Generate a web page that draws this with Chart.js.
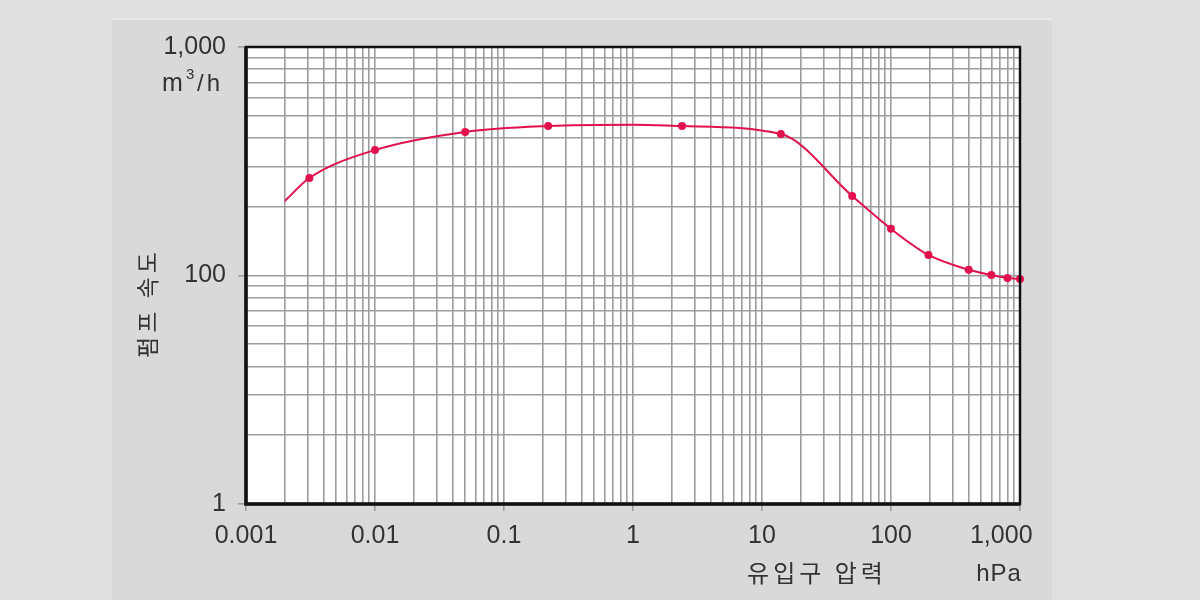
<!DOCTYPE html>
<html>
<head>
<meta charset="utf-8">
<script src="https://cdn.jsdelivr.net/npm/chart.js@4/dist/chart.umd.min.js"></script>
<style>
  html, body { margin: 0; padding: 0; background: #dfdfdf; }
  #panel { position: absolute; left: 112px; top: 18px; width: 940px; height: 582px;
           background: #d9d9d9; border-top: 2px solid #e9e9e9; }
  #wrap { position: absolute; left: 0; top: 0; width: 1200px; height: 600px; }
</style>
</head>
<body>
<div id="panel"></div>
<div id="wrap"><canvas id="grafik" width="1200" height="600"></canvas></div>
<script>
// inlet pressure (hPa) and pumping speed (m3/h)
const pressure = [0.002, 0.0031, 0.01, 0.05, 0.22, 1, 2.4, 14, 50, 100, 195, 400, 600, 800, 1000];
const speed    = [212,   267,    354,  425,  451,  457, 451, 416, 223, 160, 123, 106, 100.5, 97.5, 96.5];
const marker   = [0,     1,      1,    1,    1,    0,   1,   1,   1,   1,   1,   1,   1,     1,    1];

const xDecades = [0.001, 0.01, 0.1, 1, 10, 100, 1000];
const xLabels  = ['0.001', '0.01', '0.1', '1', '10', '100', '1,000'];
const yDecades = [10, 100, 1000];
const yLabels  = ['1', '100', '1,000'];

const gridGray = '#9d9d9d';
const red = '#e2114d';
const latin = '"Liberation Sans", Arial, sans-serif';

function allTicks(decades) {
  let out = [];
  decades.forEach((d, i) => {
    out.push(d);
    if (i < decades.length - 1) {
      for (let m = 2; m <= 9; m++) out.push(+(d * m).toPrecision(3));
    }
  });
  return out;
}
function isMajor(v, decades) {
  return decades.some(d => Math.abs(d - v) / d < 1e-6);
}

const frame = {
  id: 'frame',
  beforeDraw(chart) {
    const {ctx, chartArea: a} = chart;
    ctx.save();
    ctx.fillStyle = '#ffffff';
    ctx.fillRect(a.left, a.top, a.right - a.left, a.bottom - a.top);
    ctx.restore();
  },
  afterDraw(chart) {
    const {ctx, chartArea: a} = chart;
    ctx.save();
    ctx.strokeStyle = '#111';
    ctx.lineWidth = 2.5;
    ctx.strokeRect(a.left, a.top, a.right - a.left, a.bottom - a.top);
    ctx.lineWidth = 3.5;
    ctx.beginPath();
    ctx.moveTo(a.left, a.top);
    ctx.lineTo(a.left, a.bottom);
    ctx.lineTo(a.right, a.bottom);
    ctx.stroke();

    ctx.fillStyle = '#333';
    ctx.textBaseline = 'middle';
    ctx.textAlign = 'left';
    ctx.font = '25px ' + latin;
    ctx.fillText('m', 162, 84);
    ctx.font = '15px ' + latin;
    ctx.fillText('3', 186, 75);
    ctx.font = '24px ' + latin;
    ctx.letterSpacing = '3px';
    ctx.fillText('/h', 197, 84);

    ctx.textAlign = 'center';
    ctx.letterSpacing = '4px';
    ctx.font = '24px "Noto Sans CJK KR", sans-serif';
    ctx.fillText('유입구 압력', 817, 573);
    ctx.letterSpacing = '1px';
    ctx.font = '24px ' + latin;
    ctx.fillText('hPa', 999, 574);

    ctx.translate(147, 303);
    ctx.rotate(-Math.PI / 2);
    ctx.letterSpacing = '4px';
    ctx.font = '23px "Noto Sans CJK KR", sans-serif';
    ctx.fillText('펌프 속도', 0, 0);
    ctx.restore();
  }
};

new Chart(
  document.getElementById('grafik'),
  {
    type: 'line',
    data: {
      datasets: [
        {
          label: 'Pumping speed',
          data: pressure.map((p, i) => ({x: p, y: speed[i]})),
          borderColor: red,
          backgroundColor: red,
          borderWidth: 2,
          pointRadius: marker.map(m => m ? 4 : 0),
          pointBorderWidth: 0,
          cubicInterpolationMode: 'monotone',
          clip: false
        }
      ]
    },
    options: {
      responsive: false,
      animation: false,
      devicePixelRatio: 1,
      layout: { padding: { top: 47, right: 180, left: 0, bottom: 0 } },
      plugins: { legend: { display: false }, tooltip: { enabled: false } },
      scales: {
        x: {
          type: 'logarithmic',
          min: 0.001,
          max: 1000,
          afterBuildTicks: s => { s.ticks = allTicks(xDecades).map(v => ({value: v})); },
          afterFit: s => { s.height = 96; },
          border: { display: false },
          grid: {
            color: gridGray,
            lineWidth: 1.6,
            tickLength: 7,
            tickColor: c => (c.tick && isMajor(c.tick.value, xDecades)) ? gridGray : 'rgba(0,0,0,0)'
          },
          ticks: {
            autoSkip: false,
            maxRotation: 0,
            padding: 10,
            color: '#333',
            font: { family: latin, size: 25 },
            callback: v => {
              const i = xDecades.findIndex(d => Math.abs(d - v) / d < 1e-6);
              if (i < 0) return '';
              return i === xDecades.length - 1 ? xLabels[i] + '\u2002\u2002\u2002' : xLabels[i];
            }
          }
        },
        y: {
          type: 'logarithmic',
          min: 10,
          max: 1000,
          afterBuildTicks: s => { s.ticks = allTicks(yDecades).map(v => ({value: v})); },
          afterFit: s => { s.width = 246; },
          border: { display: false },
          grid: {
            color: gridGray,
            lineWidth: 1.6,
            tickLength: 8,
            tickColor: c => (c.tick && isMajor(c.tick.value, yDecades)) ? gridGray : 'rgba(0,0,0,0)'
          },
          ticks: {
            autoSkip: false,
            padding: 12,
            color: '#333',
            font: { family: latin, size: 25 },
            callback: v => {
              const i = yDecades.findIndex(d => Math.abs(d - v) / d < 1e-6);
              return i < 0 ? '' : yLabels[i];
            }
          }
        }
      }
    },
    plugins: [frame]
  }
);
</script>
</body>
</html>
